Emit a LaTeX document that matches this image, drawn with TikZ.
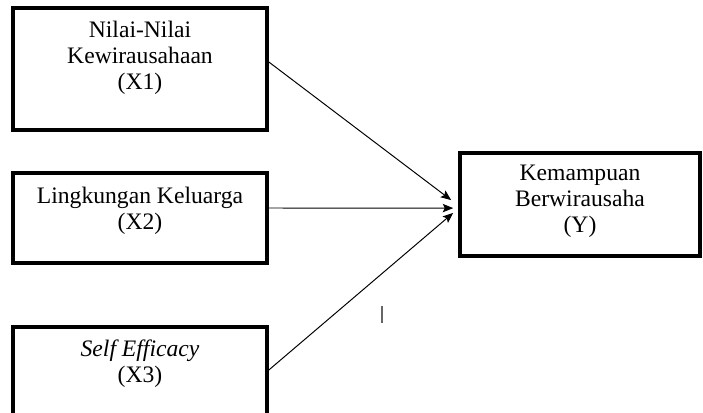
\documentclass[tikz,border=0pt]{standalone}
\usepackage{fontspec}
\setmainfont{Liberation Serif}
\usetikzlibrary{positioning,arrows.meta}

\begin{document}
\begin{tikzpicture}[x=0.25mm,y=-0.25mm,
    varbox/.style={draw, line width=2.6pt, minimum width=63.5mm, inner sep=0pt},
    vartext/.style={align=center, inner sep=0pt, font=\fontsize{16.8pt}{18.5pt}\selectfont},
    link/.style={line width=0.7pt, -{Stealth[length=2.6mm,width=2.1mm,inset=0.5mm]}}]

\useasboundingbox (0,0) rectangle (703,413);

\node[varbox, minimum height=30.5mm] (x1) at (140,69) {};
\node[varbox, minimum height=22.5mm] (x2) at (140,218) {};
\node[varbox, minimum height=22.5mm] (x3) at (140,372) {};
\node[varbox, minimum width=60mm, minimum height=25.75mm] (y) at (580,204.5) {};

\node[vartext, below=3.7mm of x1.north] (x1txt) {Nilai-Nilai\\Kewirausahaan\\(X1)};
\node[vartext, below=3.9mm of x2.north] (x2txt) {Lingkungan Keluarga\\(X2)};
\node[vartext, below=3.5mm of x3.north] (x3txt) {\textit{Self Efficacy}\\(X3)};
\node[vartext, below=3.3mm of y.north] (ytxt) {Kemampuan\\Berwirausaha\\(Y)};

\coordinate (in1) at ([xshift=-1.75mm,yshift=1.1mm]y.west);
\coordinate (in2) at ([xshift=-1.25mm,yshift=-0.9mm]y.west);
\coordinate (in3) at ([xshift=-1.25mm,yshift=-2.1mm]y.west);

\draw[link] ([yshift=1.75mm]x1.east) -- (in1);
\draw[link] ([yshift=2.5mm]x2.east) -- (in2);
\draw[link] ([yshift=0.5mm]x3.east) -- (in3);

% stray mark
\draw[line width=0.9pt, black!60] (382,306) -- (382,323);

\end{tikzpicture}
\end{document}
